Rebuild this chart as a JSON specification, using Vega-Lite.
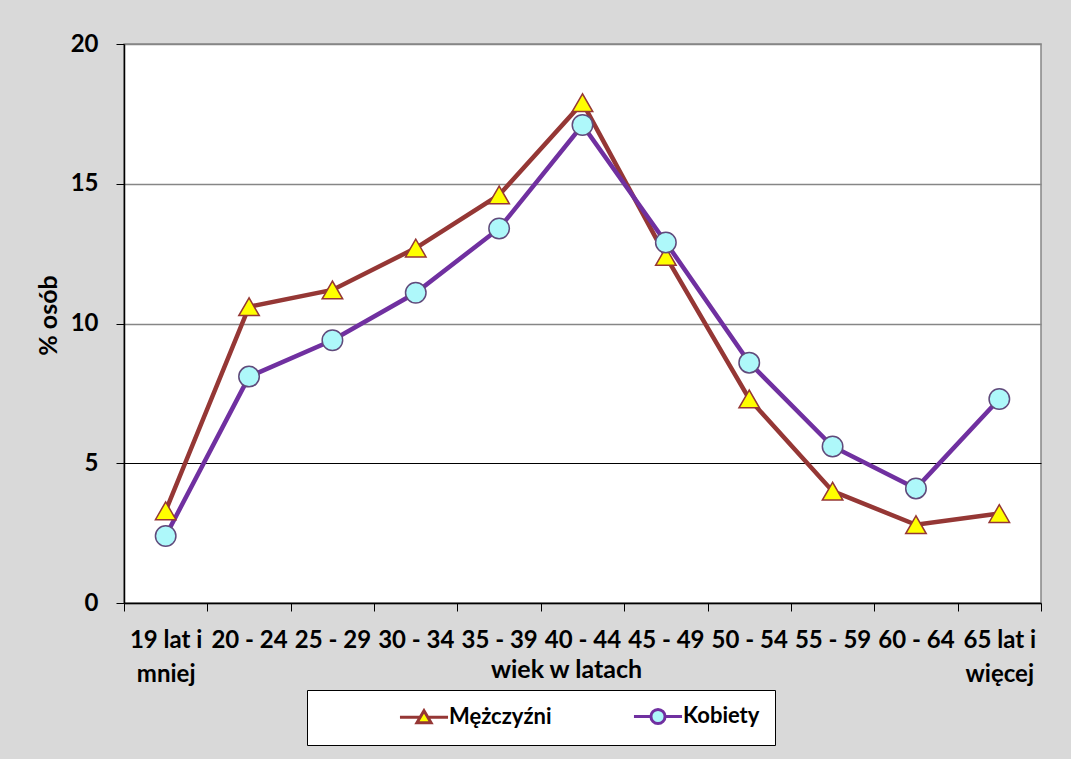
{
  "$schema": "https://vega.github.io/schema/vega-lite/v6.json",
  "width": 917,
  "height": 559,
  "autosize": {"type": "none"},
  "padding": {"left": 124, "top": 44, "right": 30, "bottom": 156},
  "background": "#d9d9d9",
  "config": {
    "font": "Lato",
    "view": {"fill": "white", "stroke": "#868686", "strokeWidth": 1.5},
    "axis": {
      "labelFont": "Lato", "labelFontWeight": "bold", "labelFontSize": 24, "labelColor": "black",
      "titleFont": "Lato", "titleFontWeight": "bold", "titleFontSize": 25, "titleColor": "black",
      "domainColor": "black", "domainWidth": 1.5, "tickColor": "black", "tickSize": 8, "tickWidth": 1
    }
  },
  "data": {"values": [
    {"age": "19 lat i mniej", "sex": "Mężczyźni", "value": 3.3},
    {"age": "20 - 24", "sex": "Mężczyźni", "value": 10.6},
    {"age": "25 - 29", "sex": "Mężczyźni", "value": 11.2},
    {"age": "30 - 34", "sex": "Mężczyźni", "value": 12.7},
    {"age": "35 - 39", "sex": "Mężczyźni", "value": 14.6},
    {"age": "40 - 44", "sex": "Mężczyźni", "value": 17.9},
    {"age": "45 - 49", "sex": "Mężczyźni", "value": 12.4},
    {"age": "50 - 54", "sex": "Mężczyźni", "value": 7.3},
    {"age": "55 - 59", "sex": "Mężczyźni", "value": 4.0},
    {"age": "60 - 64", "sex": "Mężczyźni", "value": 2.8},
    {"age": "65 lat i więcej", "sex": "Mężczyźni", "value": 3.2},
    {"age": "19 lat i mniej", "sex": "Kobiety", "value": 2.4},
    {"age": "20 - 24", "sex": "Kobiety", "value": 8.1},
    {"age": "25 - 29", "sex": "Kobiety", "value": 9.4},
    {"age": "30 - 34", "sex": "Kobiety", "value": 11.1},
    {"age": "35 - 39", "sex": "Kobiety", "value": 13.4},
    {"age": "40 - 44", "sex": "Kobiety", "value": 17.1},
    {"age": "45 - 49", "sex": "Kobiety", "value": 12.9},
    {"age": "50 - 54", "sex": "Kobiety", "value": 8.6},
    {"age": "55 - 59", "sex": "Kobiety", "value": 5.6},
    {"age": "60 - 64", "sex": "Kobiety", "value": 4.1},
    {"age": "65 lat i więcej", "sex": "Kobiety", "value": 7.3}
  ]},
  "layer": [
    {
      "mark": {"type": "line", "strokeWidth": 4.5},
      "encoding": {
        "x": {
          "field": "age", "type": "ordinal", "sort": null, "bandPosition": 0.5,
          "scale": {"type": "band", "paddingInner": 0, "paddingOuter": 0},
          "axis": {
            "title": "wiek w latach", "labelAngle": 0, "tickBand": "extent", "grid": false,
            "labelPadding": 17, "labelLineHeight": 34, "labelOverlap": false, "labelLimit": 300,
            "labelExpr": "datum.value == '19 lat i mniej' ? ['19 lat i', 'mniej'] : datum.value == '65 lat i więcej' ? ['65 lat i', 'więcej'] : datum.label",
            "titleX": 442, "titleY": 74, "titleBaseline": "alphabetic", "titleAlign": "center"
          }
        },
        "y": {
          "field": "value", "type": "quantitative",
          "scale": {"domain": [0, 20], "nice": false},
          "axis": {
            "title": "% osób", "values": [0, 5, 10, 15, 20], "grid": true,
            "gridColor": {"condition": {"test": "datum.value === 5", "value": "black"}, "value": "#868686"},
            "gridWidth": {"condition": {"test": "datum.value === 5", "value": 1}, "value": 1.5},
            "labelPadding": 18, "titleX": -76, "titleY": 271, "titleAlign": "center", "titleBaseline": "middle"
          }
        },
        "color": {
          "field": "sex", "type": "nominal",
          "scale": {"domain": ["Mężczyźni", "Kobiety"], "range": ["#953735", "#7030a0"]},
          "legend": {
            "title": null, "orient": "none", "legendX": 183, "legendY": 646, "direction": "horizontal",
            "fillColor": "white", "strokeColor": "black", "padding": 15, "gridAlign": "all",
            "labelFont": "Lato", "labelFontSize": 22, "labelFontWeight": "bold", "labelColor": "black",
            "symbolSize": 200, "symbolStrokeWidth": 3, "symbolOffset": 91, "labelOffset": 14, "columnPadding": 4,
            "encode": {
              "symbols": {"update": {
                "shape": {"signal": "datum.value === 'Mężczyźni' ? 'M-3.4,0L-0.5,0M0.5,0L3.4,0M0,-0.9L1,0.8L-1,0.8Z' : 'M-3.4,0L-1,0M1,0L3.4,0M1,0A1,1,0,1,1,-1,0A1,1,0,1,1,1,0Z'"},
                "fill": {"signal": "datum.value === 'Mężczyźni' ? '#ffff00' : '#aef8fa'"},
                "opacity": {"value": 1}
              }}
            }
          }
        }
      }
    },
    {
      "transform": [{"filter": "datum.sex === 'Mężczyźni'"}],
      "mark": {"type": "point", "shape": "triangle-up", "size": 420, "strokeWidth": 1.5, "opacity": 1, "fill": "#ffff00", "stroke": "#953735"},
      "encoding": {
        "x": {"field": "age", "type": "ordinal", "sort": null, "bandPosition": 0.5},
        "y": {"field": "value", "type": "quantitative"}
      }
    },
    {
      "transform": [{"filter": "datum.sex === 'Kobiety'"}],
      "mark": {"type": "point", "shape": "circle", "size": 420, "strokeWidth": 1.5, "opacity": 1, "fill": "#aef8fa", "stroke": "#604a7b"},
      "encoding": {
        "x": {"field": "age", "type": "ordinal", "sort": null, "bandPosition": 0.5},
        "y": {"field": "value", "type": "quantitative"}
      }
    }
  ]
}
